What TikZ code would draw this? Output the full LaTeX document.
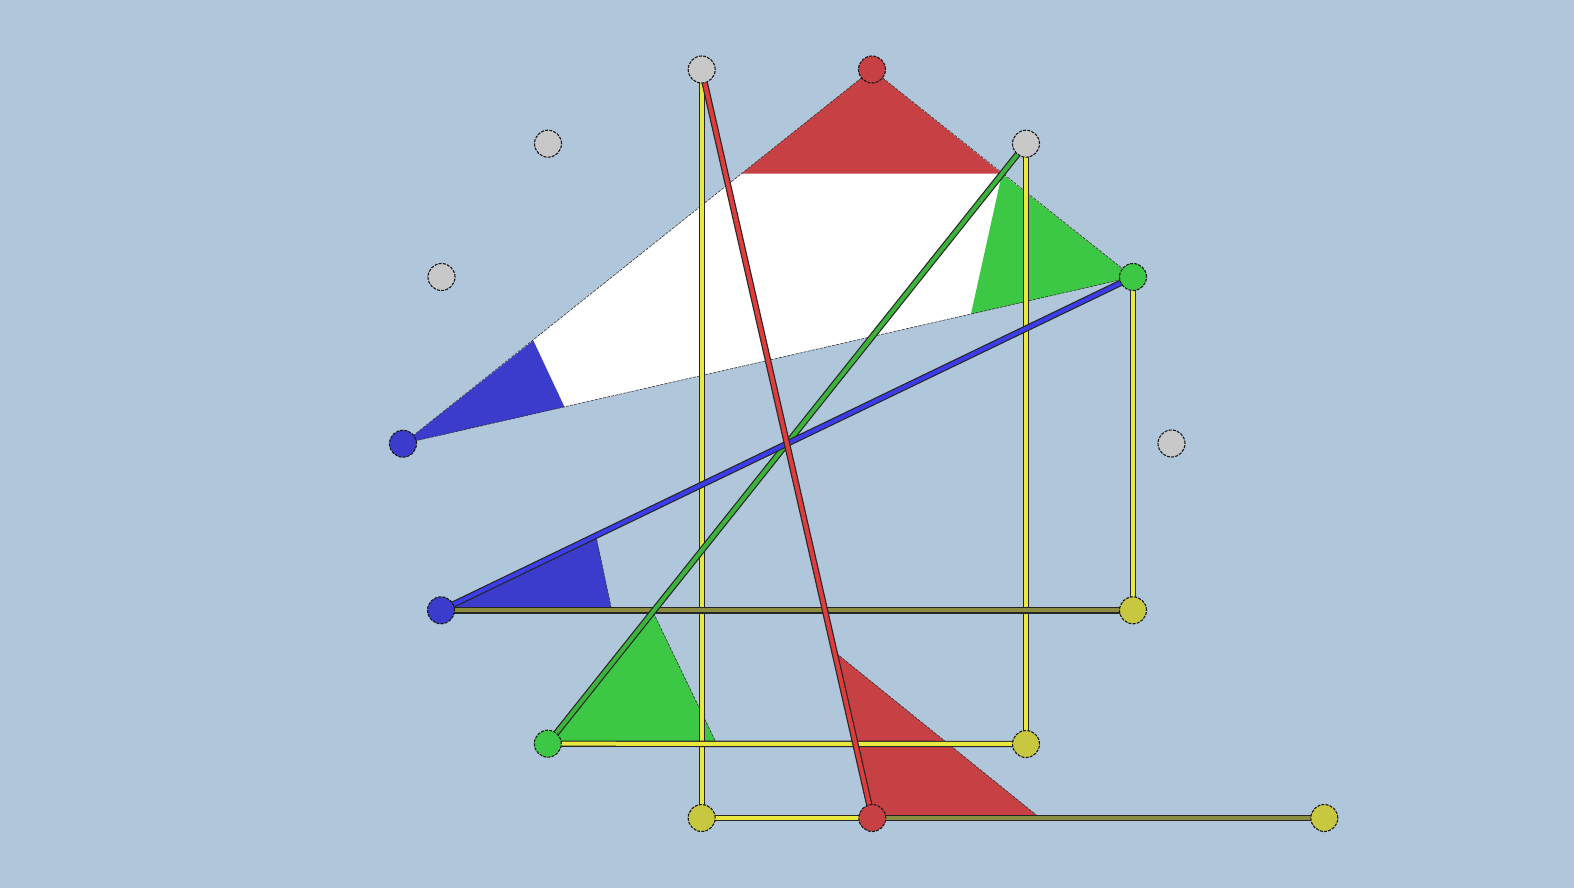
\documentclass[tikz,border=0pt]{standalone}
\begin{document}
\begin{tikzpicture}[x=0.5pt,y=-0.5pt,
  pt/.style={circle,inner sep=0pt,minimum size=13.5pt,draw=black!90,line width=0.55pt,dash pattern=on 1.5pt off 0.6pt},
  edge/.style={draw=black!80,line width=0.3pt,dash pattern=on 1.5pt off 0.6pt},
  beam/.style={line width=3.2pt,draw=black!85},
  ]
\definecolor{bg}{RGB}{176,199,219}
\definecolor{cred}{RGB}{198,64,68}
\definecolor{cgreen}{RGB}{60,200,68}
\definecolor{cblue}{RGB}{60,60,204}
\definecolor{cyel}{RGB}{200,200,64}
\definecolor{cgray}{RGB}{200,200,200}
\definecolor{lyel}{RGB}{232,232,64}
\definecolor{lolive}{RGB}{140,140,64}
\definecolor{lgreen}{RGB}{60,180,60}
\definecolor{lblue}{RGB}{60,60,235}
\definecolor{lred}{RGB}{225,60,60}
\fill[bg] (0,0) rectangle (1574,888);
\useasboundingbox (0,0) rectangle (1574,888);
% point positions
\coordinate (g1) at (701.7,69.5);
\coordinate (g2) at (548,143.7);
\coordinate (g3) at (441.5,277);
\coordinate (g4) at (1026,143.7);
\coordinate (g5) at (1171.5,443.5);
\coordinate (r1) at (872,69.5);
\coordinate (r2) at (872.3,818);
\coordinate (gr1) at (1133,277);
\coordinate (gr2) at (547.8,743.7);
\coordinate (b1) at (403,443.7);
\coordinate (b2) at (441,610.3);
\coordinate (y1) at (1133,610.3);
\coordinate (y2) at (1026,744);
\coordinate (y3) at (701.7,818);
\coordinate (y4) at (1324.3,818);
% big triangle
\fill[white] (b1) -- (r1) -- (gr1) -- cycle;
\fill[cred] (r1) -- (741.6,173.6) -- (1002,173.6) -- cycle;
\fill[cgreen] (gr1) -- (1002,173.6) -- (970.9,314.3) -- cycle;
\fill[cblue] (b1) -- (533.3,340.5) -- (564.5,407) -- cycle;
\draw[edge] (b1) -- (r1) -- (gr1) -- cycle;
% lower corner triangles
\filldraw[fill=cblue,edge] (b2) -- (596.5,538.5) -- (611.7,610.3) -- cycle;
\filldraw[fill=cgreen,edge] (gr2) -- (653.5,613) -- (716.7,744) -- cycle;
\filldraw[fill=cred,edge] (r2) -- (836.5,653.5) -- (1040,818) -- cycle;
% connectors (beams)
\foreach \a/\b/\c in {g1/y3/lyel, g4/y2/lyel, gr1/y1/lyel, gr2/y2/lyel, y3/r2/lyel, b2/y1/lolive, r2/y4/lolive, g4/gr2/lgreen, gr1/b2/lblue, g1/r2/lred}{
  \draw[beam] (\a) -- (\b);
  \draw[line width=2pt,draw=\c] (\a) -- (\b);
}
% points
\node[pt,fill=cgray] (G1) at (g1) {};
\node[pt,fill=cgray] (G2) at (g2) {};
\node[pt,fill=cgray] (G3) at (g3) {};
\node[pt,fill=cgray] (G4) at (g4) {};
\node[pt,fill=cgray] (G5) at (g5) {};
\node[pt,fill=cred] (R1) at (r1) {};
\node[pt,fill=cred] (R2) at (r2) {};
\node[pt,fill=cgreen] (GR1) at (gr1) {};
\node[pt,fill=cgreen] (GR2) at (gr2) {};
\node[pt,fill=cblue] (B1) at (b1) {};
\node[pt,fill=cblue] (B2) at (b2) {};
\node[pt,fill=cyel] (Y1) at (y1) {};
\node[pt,fill=cyel] (Y2) at (y2) {};
\node[pt,fill=cyel] (Y3) at (y3) {};
\node[pt,fill=cyel] (Y4) at (y4) {};
\end{tikzpicture}
\end{document}
